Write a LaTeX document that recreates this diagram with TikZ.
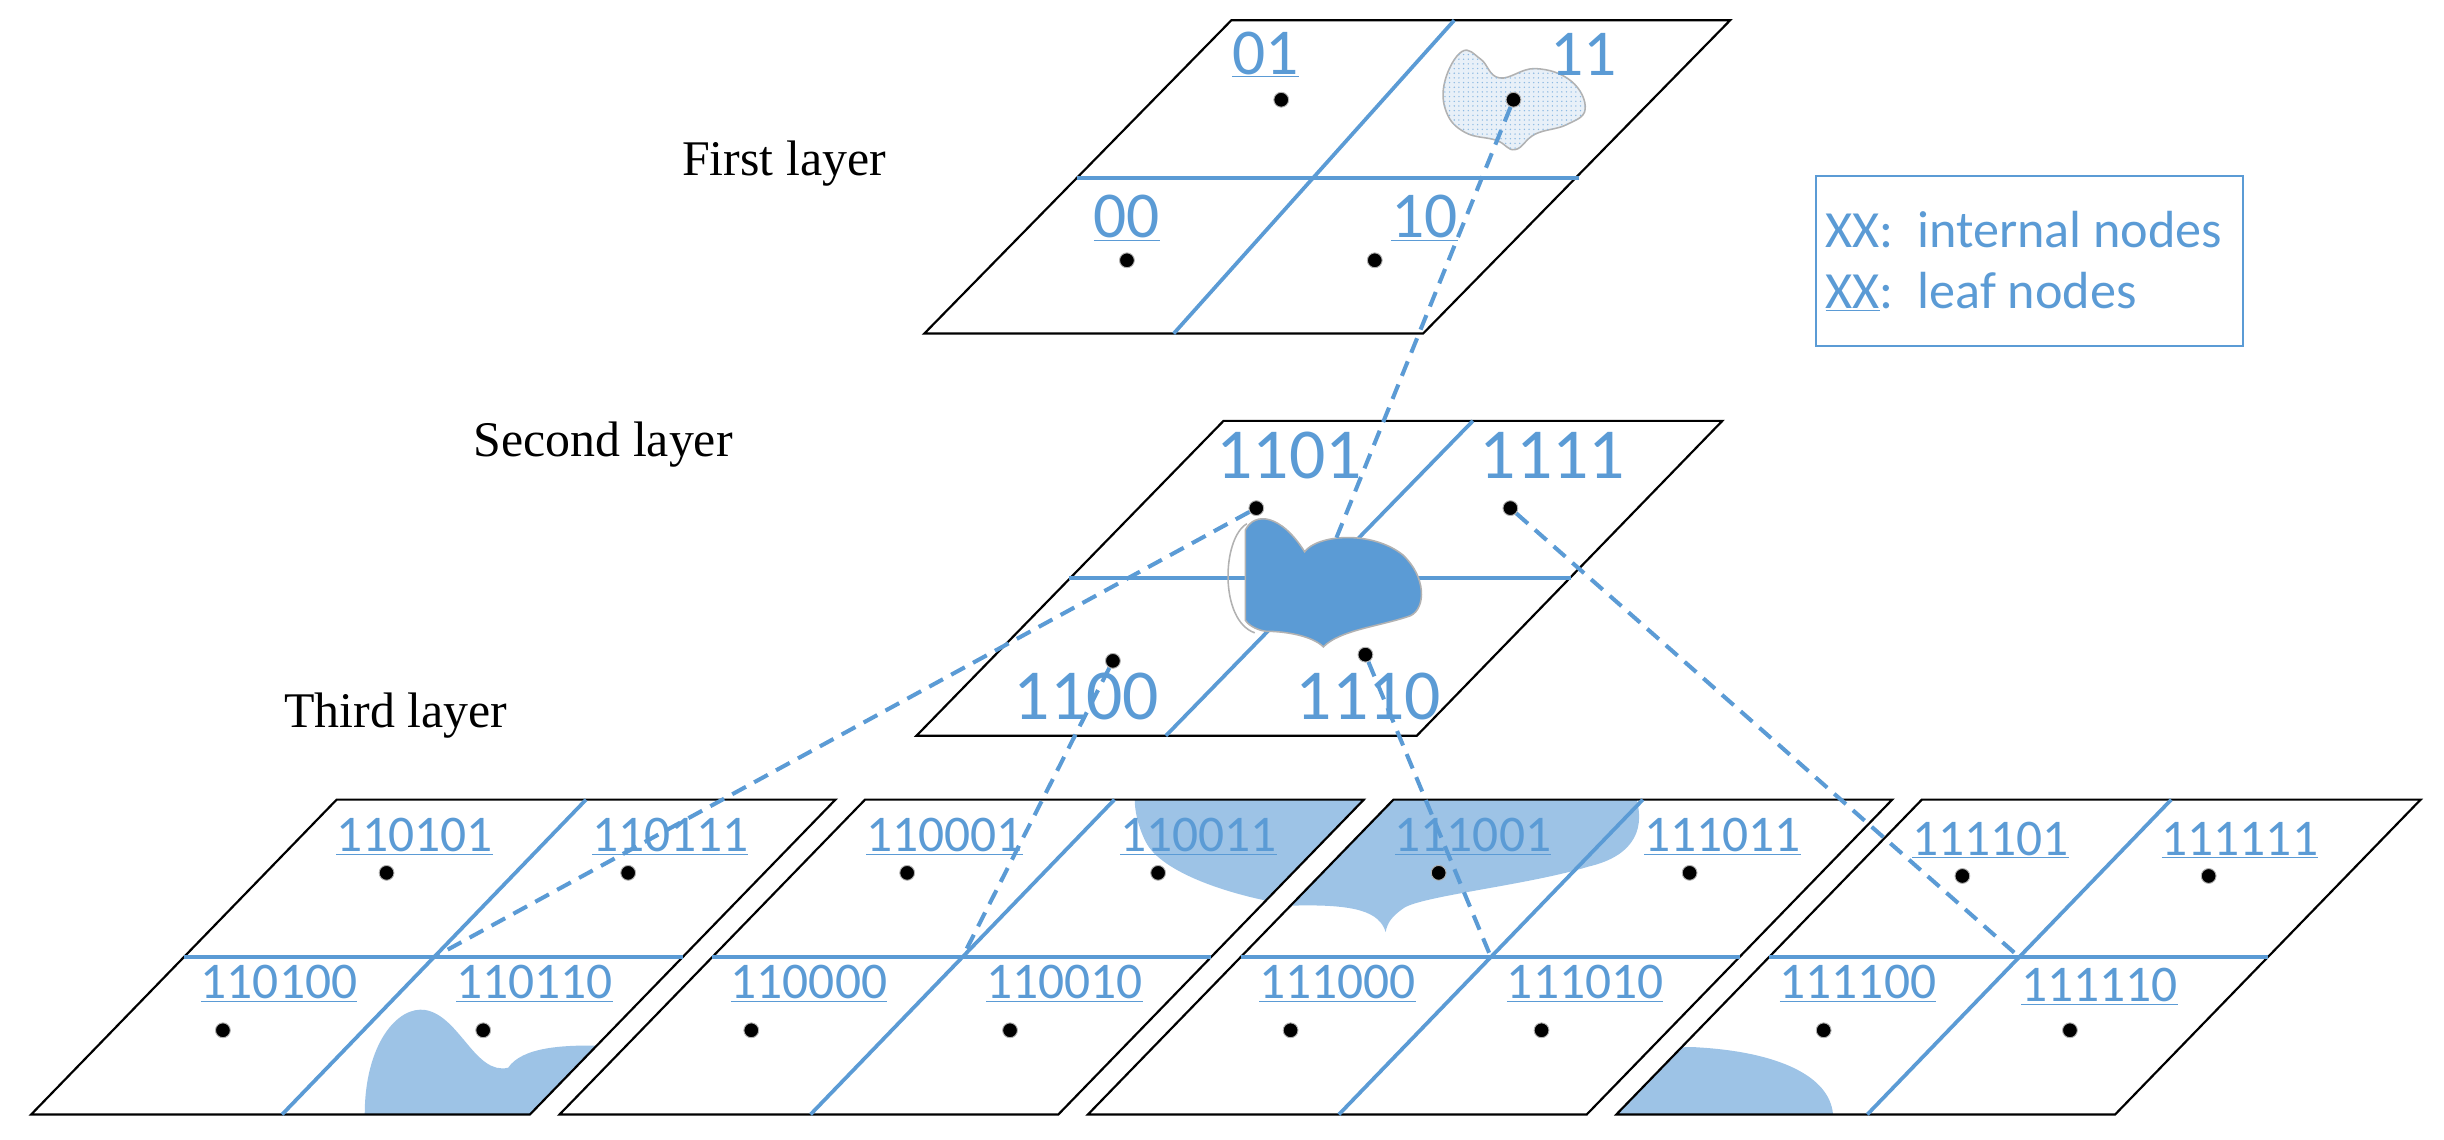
\documentclass[tikz,border=0pt]{standalone}
\usepackage{fontspec}
\usetikzlibrary{patterns}
\setmainfont{Liberation Serif}
\newfontfamily\calfont{Carlito}
\definecolor{bl}{HTML}{5B9BD5}
\definecolor{lb}{HTML}{9DC3E6}
\definecolor{tb}{HTML}{E8F0F8}
\begin{document}
\begin{tikzpicture}[x=1pt,y=-1pt,
 plate/.style={draw=black,line width=1.4pt,line join=miter},
 div/.style={draw=bl,line width=2.4pt},
 con/.style={draw=bl,line width=2.6pt,dash pattern=on 10pt off 6pt},
 dot/.style={circle,fill=black,draw=gray!60,line width=0.6pt,inner sep=0,minimum size=9.5pt},
 lbA/.style={font=\calfont\fontsize{42}{42}\selectfont,text=bl,inner sep=0},
 lbB/.style={font=\calfont\fontsize{46}{46}\selectfont,text=bl,inner sep=0},
 lbC/.style={font=\calfont\fontsize{33}{33}\selectfont,text=bl,inner sep=0},
 lay/.style={font=\fontsize{32}{32}\selectfont,inner sep=0}]
\useasboundingbox (0,0) rectangle (1568,731);
% ===== top layer
\draw[plate] (790,13)--(1110,13)--(913,214)--(593,214)--cycle;
\draw[div] (691,114)--(1013,114);
\draw[div] (933,13)--(753,214);
\draw[draw=gray!60,line width=1pt,fill=tb,postaction={pattern=dots,pattern color=bl!70}] plot[smooth cycle,tension=0.7] coordinates{(927,52)(938,33)(950,38)(962,50)(985,44)(1008,52)(1017,70)(1005,80)(985,86)(972,96)(960,90)(940,85)(928,72)};
\node[lbA] (t01) at (812,35) {\underline{01}};
\node[lbA] (t11) at (1016,35) {11};
\node[lbA] (t00) at (723,140) {\underline{00}};
\node[lbA] (t10) at (914,140) {\underline{10}};
\node[dot] (d01) at (822,64) {};
\node[dot] (d11) at (971,64) {};
\node[dot] (d00) at (723,167) {};
\node[dot] (d10) at (882,167) {};
\node[lay] (L1) at (503,105) {First layer};
\node[lay] (L2) at (387,285) {Second layer};
\node[lay] (L3) at (254,459) {Third layer};
% legend
\node[draw=bl,line width=1.2pt,minimum width=274pt,minimum height=109pt,inner sep=0] (leg) at (1302,167.5) {};
\node[font=\calfont\fontsize{33.5}{33.5}\selectfont,text=bl,anchor=west,inner sep=0] (leg1) at (1171,147) {XX:\ \ internal nodes};
\node[font=\calfont\fontsize{33.5}{33.5}\selectfont,text=bl,anchor=west,inner sep=0] (leg2) at (1171,187) {\underline{XX}:\ \ leaf nodes};
% ===== second layer
\draw[plate] (785,270)--(1105,270)--(909,472)--(588,472)--cycle;
\draw[div] (686,371)--(1008,371);
\draw[div] (945,270)--(748,472);
\draw[draw=gray!60,line width=1pt] (800,336) .. controls (784,345) and (782,398) .. (805,406);
\draw[draw=gray!60,line width=1pt,fill=bl] (799,340) .. controls (805,328) and (822,330) .. (837,354)
 .. controls (845,343) and (880,340) .. (900,356) .. controls (915,370) and (915,390) .. (905,395)
 .. controls (885,402) and (860,404) .. (849,415) .. controls (842,408) and (825,405) .. (812,405)
 .. controls (805,404) and (800,400) .. (799,398) -- cycle;
\node[lbB] (s1101) at (827,292) {1101};
\node[lbB] (s1111) at (996,292) {1111};
\node[lbB] (s1100) at (697,447) {1100};
\node[lbB] (s1110) at (878,447) {1110};
\node[dot] (d1101) at (806,326) {};
\node[dot] (d1111) at (969,326) {};
\node[dot] (d1100) at (714,424) {};
\node[dot] (d1110) at (876,420) {};
\coordinate (bl2) at (857,346);
% ===== third layer blobs
\begin{scope}
 \clip (216,513)--(536,513)--(340,715)--(20,715)--cycle;
 \fill[lb] (234,715) .. controls (234,670) and (255,645) .. (273,648) .. controls (295,652) and (305,690) .. (326,685)
  .. controls (335,672) and (360,670) .. (390,671) -- (360,715) -- cycle;
\end{scope}
\foreach \i in {1,2}{
 \begin{scope}
  \clip[xshift=339*\i] (216,513)--(536,513)--(340,715)--(20,715)--cycle;
  \fill[lb] (728,513) -- (1050,513) .. controls (1056,535) and (1045,550) .. (1019,556) .. controls (980,568) and (910,575) .. (900,583)
   .. controls (893,588) and (890,592) .. (889,598) .. controls (885,585) and (870,580) .. (830,581)
   .. controls (790,575) and (745,560) .. (735,540) .. controls (730,530) and (728,520) .. (728,513) -- cycle;
 \end{scope}}
\begin{scope}
 \clip[xshift=1017] (216,513)--(536,513)--(340,715)--(20,715)--cycle;
 \fill[lb] (1030,715) -- (1060,680) .. controls (1068,673) and (1078,671) .. (1090,672) .. controls (1140,675) and (1174,690) .. (1176,715) -- cycle;
\end{scope}
% plates
\foreach \i in {0,1,2,3}{
 \draw[plate,xshift=339*\i] (216,513)--(536,513)--(340,715)--(20,715)--cycle;
 \draw[div,xshift=339*\i] (118,614)--(438,614);
 \draw[div,xshift=339*\i] (376,513)--(181,715);}
% labels third layer
\node[lbC] (a1) at (266,537) {\underline{110101}};
\node[lbC] (a2) at (430,537) {\underline{110111}};
\node[lbC] (a3) at (179,631) {\underline{110100}};
\node[lbC] (a4) at (343,631) {\underline{110110}};
\node[lbC] (b1) at (606,537) {\underline{110001}};
\node[lbC] (b2) at (769,537) {\underline{110011}};
\node[lbC] (b3) at (519,631) {\underline{110000}};
\node[lbC] (b4) at (683,631) {\underline{110010}};
\node[lbC] (c1) at (945,537) {\underline{111001}};
\node[lbC] (c2) at (1105,537) {\underline{111011}};
\node[lbC] (c3) at (858,631) {\underline{111000}};
\node[lbC] (c4) at (1017,631) {\underline{111010}};
\node[lbC] (e1) at (1277,539) {\underline{111101}};
\node[lbC] (e2) at (1437,539) {\underline{111111}};
\node[lbC] (e3) at (1192,631) {\underline{111100}};
\node[lbC] (e4) at (1347,633) {\underline{111110}};
\foreach \k/\x/\y in {a1/248/560,a2/403/560,a3/143/661,a4/310/661,b1/582/560,b2/743/560,b3/482/661,b4/648/661,c1/923/560,c2/1084/560,c3/828/661,c4/989/661,e1/1259/562,e2/1417/562,e3/1170/661,e4/1328/661}
 \node[dot] (d\k) at (\x,\y) {};
\coordinate (x1) at (278.5,614);
\coordinate (x2) at (617.5,614);
\coordinate (x3) at (956.5,614);
\coordinate (x4) at (1295.5,614);
% connectors
\draw[con] (d11) -- (bl2);
\draw[con] (d1101) -- (x1);
\draw[con] (d1100) -- (x2);
\draw[con] (d1110) -- (x3);
\draw[con] (d1111) -- (x4);
\end{tikzpicture}
\end{document}
